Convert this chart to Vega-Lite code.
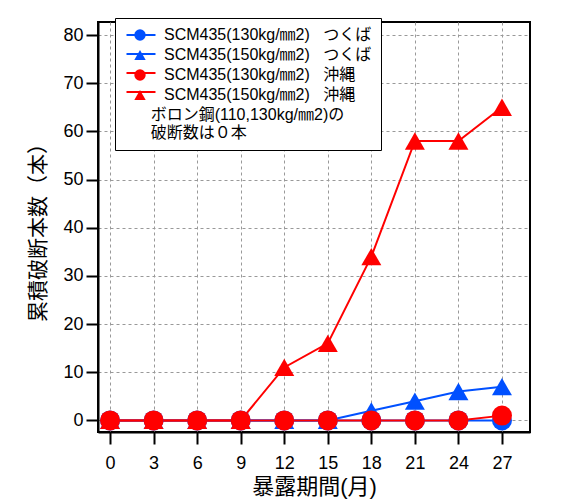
{
  "$schema": "https://vega.github.io/schema/vega-lite/v6.json",
  "width": 432,
  "height": 410,
  "autosize": "none",
  "padding": {"left": 98, "top": 22, "right": 40, "bottom": 71},
  "background": "white",
  "config": {
    "font": "Liberation Sans, Noto Sans CJK JP",
    "view": {"stroke": "black", "strokeWidth": 2},
    "axis": {
      "domainColor": "black", "domainWidth": 2,
      "tickColor": "black", "tickWidth": 2, "tickSize": 12,
      "labelFontSize": 18, "labelColor": "black",
      "titleFontSize": 21, "titleColor": "black", "titleFontWeight": "normal",
      "gridColor": "#999999", "gridDash": [3, 3], "gridWidth": 1
    }
  },
  "data": {"values": [
    {"series": "SCM435(130kg/㎜2)\u00a0\u00a0\u00a0つくば", "month": 0, "count": 0},
    {"series": "SCM435(130kg/㎜2)\u00a0\u00a0\u00a0つくば", "month": 3, "count": 0},
    {"series": "SCM435(130kg/㎜2)\u00a0\u00a0\u00a0つくば", "month": 6, "count": 0},
    {"series": "SCM435(130kg/㎜2)\u00a0\u00a0\u00a0つくば", "month": 9, "count": 0},
    {"series": "SCM435(130kg/㎜2)\u00a0\u00a0\u00a0つくば", "month": 12, "count": 0},
    {"series": "SCM435(130kg/㎜2)\u00a0\u00a0\u00a0つくば", "month": 15, "count": 0},
    {"series": "SCM435(130kg/㎜2)\u00a0\u00a0\u00a0つくば", "month": 18, "count": 0},
    {"series": "SCM435(130kg/㎜2)\u00a0\u00a0\u00a0つくば", "month": 21, "count": 0},
    {"series": "SCM435(130kg/㎜2)\u00a0\u00a0\u00a0つくば", "month": 24, "count": 0},
    {"series": "SCM435(130kg/㎜2)\u00a0\u00a0\u00a0つくば", "month": 27, "count": 0},
    {"series": "SCM435(150kg/㎜2)\u00a0\u00a0\u00a0つくば", "month": 0, "count": 0},
    {"series": "SCM435(150kg/㎜2)\u00a0\u00a0\u00a0つくば", "month": 3, "count": 0},
    {"series": "SCM435(150kg/㎜2)\u00a0\u00a0\u00a0つくば", "month": 6, "count": 0},
    {"series": "SCM435(150kg/㎜2)\u00a0\u00a0\u00a0つくば", "month": 9, "count": 0},
    {"series": "SCM435(150kg/㎜2)\u00a0\u00a0\u00a0つくば", "month": 12, "count": 0},
    {"series": "SCM435(150kg/㎜2)\u00a0\u00a0\u00a0つくば", "month": 15, "count": 0},
    {"series": "SCM435(150kg/㎜2)\u00a0\u00a0\u00a0つくば", "month": 18, "count": 2},
    {"series": "SCM435(150kg/㎜2)\u00a0\u00a0\u00a0つくば", "month": 21, "count": 4},
    {"series": "SCM435(150kg/㎜2)\u00a0\u00a0\u00a0つくば", "month": 24, "count": 6},
    {"series": "SCM435(150kg/㎜2)\u00a0\u00a0\u00a0つくば", "month": 27, "count": 7},
    {"series": "SCM435(130kg/㎜2)\u00a0\u00a0\u00a0沖縄", "month": 0, "count": 0},
    {"series": "SCM435(130kg/㎜2)\u00a0\u00a0\u00a0沖縄", "month": 3, "count": 0},
    {"series": "SCM435(130kg/㎜2)\u00a0\u00a0\u00a0沖縄", "month": 6, "count": 0},
    {"series": "SCM435(130kg/㎜2)\u00a0\u00a0\u00a0沖縄", "month": 9, "count": 0},
    {"series": "SCM435(130kg/㎜2)\u00a0\u00a0\u00a0沖縄", "month": 12, "count": 0},
    {"series": "SCM435(130kg/㎜2)\u00a0\u00a0\u00a0沖縄", "month": 15, "count": 0},
    {"series": "SCM435(130kg/㎜2)\u00a0\u00a0\u00a0沖縄", "month": 18, "count": 0},
    {"series": "SCM435(130kg/㎜2)\u00a0\u00a0\u00a0沖縄", "month": 21, "count": 0},
    {"series": "SCM435(130kg/㎜2)\u00a0\u00a0\u00a0沖縄", "month": 24, "count": 0},
    {"series": "SCM435(130kg/㎜2)\u00a0\u00a0\u00a0沖縄", "month": 27, "count": 1},
    {"series": "SCM435(150kg/㎜2)\u00a0\u00a0\u00a0沖縄", "month": 0, "count": 0},
    {"series": "SCM435(150kg/㎜2)\u00a0\u00a0\u00a0沖縄", "month": 3, "count": 0},
    {"series": "SCM435(150kg/㎜2)\u00a0\u00a0\u00a0沖縄", "month": 6, "count": 0},
    {"series": "SCM435(150kg/㎜2)\u00a0\u00a0\u00a0沖縄", "month": 9, "count": 0},
    {"series": "SCM435(150kg/㎜2)\u00a0\u00a0\u00a0沖縄", "month": 12, "count": 11},
    {"series": "SCM435(150kg/㎜2)\u00a0\u00a0\u00a0沖縄", "month": 15, "count": 16},
    {"series": "SCM435(150kg/㎜2)\u00a0\u00a0\u00a0沖縄", "month": 18, "count": 34},
    {"series": "SCM435(150kg/㎜2)\u00a0\u00a0\u00a0沖縄", "month": 21, "count": 58},
    {"series": "SCM435(150kg/㎜2)\u00a0\u00a0\u00a0沖縄", "month": 24, "count": 58},
    {"series": "SCM435(150kg/㎜2)\u00a0\u00a0\u00a0沖縄", "month": 27, "count": 65}
  ]},
  "encoding": {
    "x": {"field": "month", "type": "quantitative",
      "scale": {"domain": [-0.83, 28.93], "nice": false, "zero": false},
      "axis": {"values": [0, 3, 6, 9, 12, 15, 18, 21, 24, 27], "title": "暴露期間(月)", "labelPadding": 10, "titlePadding": 4, "titleFontSize": 22}},
    "y": {"field": "count", "type": "quantitative",
      "scale": {"domain": [-2.4, 82.7], "nice": false, "zero": false},
      "axis": {"values": [0, 10, 20, 30, 40, 50, 60, 70, 80], "title": "累積破断本数（本）", "labelPadding": 3, "titlePadding": 14}}
  },
  "layer": [
    {
      "mark": {"type": "line", "strokeWidth": 2},
      "encoding": {
        "stroke": {"field": "series", "type": "nominal",
          "scale": {"domain": ["SCM435(150kg/㎜2)\u00a0\u00a0\u00a0つくば", "SCM435(130kg/㎜2)\u00a0\u00a0\u00a0つくば", "SCM435(150kg/㎜2)\u00a0\u00a0\u00a0沖縄", "SCM435(130kg/㎜2)\u00a0\u00a0\u00a0沖縄"], "range": ["#0050ff", "#0050ff", "#ff0000", "#ff0000"]},
          "legend": {"orient": "none", "legendX": 17, "legendY": -4, "padding": 9, "title": null, "zindex": 2,
            "symbolType": "M-2.9,0H2.9", "symbolSize": 100, "symbolStrokeWidth": 2, "symbolOffset": 9,
            "labelFontSize": 16, "labelExpr": "''", "rowPadding": 3}}
      }
    },
    {
      "mark": {"type": "point", "filled": true, "size": 400, "opacity": 1},
      "encoding": {
        "fill": {"field": "series", "type": "nominal",
          "scale": {"domain": ["SCM435(130kg/㎜2)\u00a0\u00a0\u00a0つくば", "SCM435(150kg/㎜2)\u00a0\u00a0\u00a0つくば", "SCM435(130kg/㎜2)\u00a0\u00a0\u00a0沖縄", "SCM435(150kg/㎜2)\u00a0\u00a0\u00a0沖縄"], "range": ["#0050ff", "#0050ff", "#ff0000", "#ff0000"]},
          "legend": {"orient": "none", "legendX": 17, "legendY": -4, "padding": 9, "zindex": 1,
            "title": ["\u200b\u00a0\u00a0\u00a0\u00a0\u00a0\u00a0ボロン鋼(110,130kg/㎜2)の", "\u200b\u00a0\u00a0\u00a0\u00a0\u00a0\u00a0破断数は０本"],
            "titleOrient": "bottom", "titleFontSize": 16, "titleFontWeight": "normal", "titleColor": "black", "titleLineHeight": 18, "titleLimit": 400, "titlePadding": 4,
            "strokeColor": "black", "fillColor": "white",
            "encode": {"legend": {"update": {"strokeWidth": {"value": 2}}}},
            "symbolSize": 130, "symbolOffset": 8, "labelOffset": 16,
            "labelFontSize": 16, "labelColor": "black", "labelLimit": 400, "rowPadding": 3}},
        "shape": {"field": "series", "type": "nominal",
          "scale": {"domain": ["SCM435(130kg/㎜2)\u00a0\u00a0\u00a0つくば", "SCM435(150kg/㎜2)\u00a0\u00a0\u00a0つくば", "SCM435(130kg/㎜2)\u00a0\u00a0\u00a0沖縄", "SCM435(150kg/㎜2)\u00a0\u00a0\u00a0沖縄"], "range": ["circle", "triangle-up", "circle", "triangle-up"]}}
      }
    }
  ]
}
